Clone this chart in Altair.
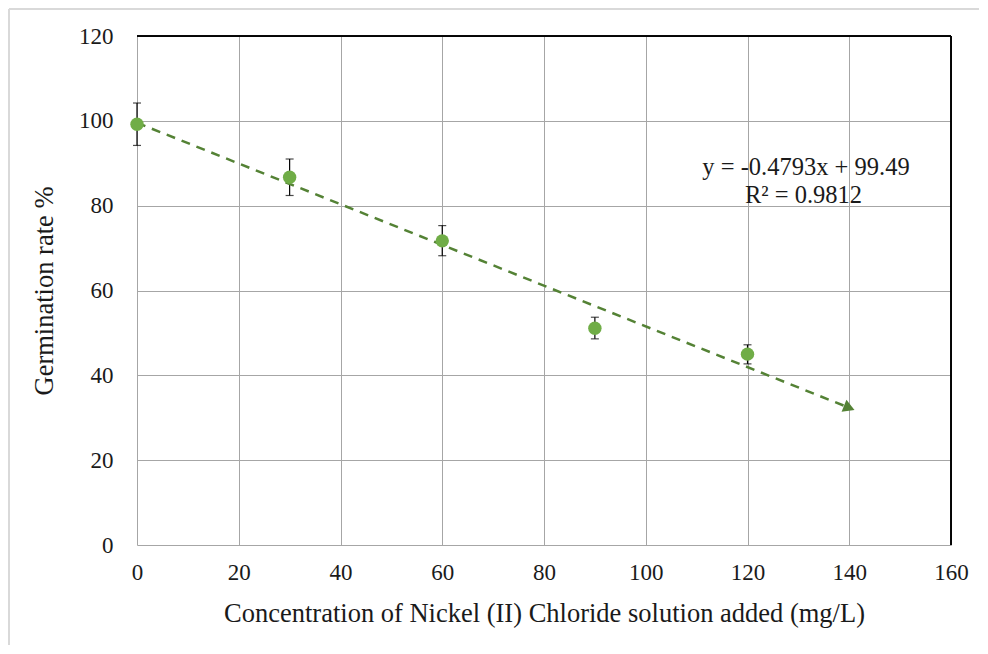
import altair as alt
import pandas as pd

conc = [0, 30, 60, 90, 120]
germ = [99.2, 86.7, 71.7, 51.1, 45.0]
err_lo = [94.2, 82.4, 68.2, 48.6, 42.7]
err_hi = [104.2, 91.0, 75.3, 53.7, 47.2]

trend_text = ["y = -0.4793x + 99.49", "R\u00b2 = 0.9812"]
trend_tx = [131.5, 131.0]
trend_ty = [88.9, 82.3]

df = pd.DataFrame({"x": conc, "y": germ, "lo": err_lo, "hi": err_hi})
tdf = pd.DataFrame({"t": trend_text, "x": trend_tx, "y": trend_ty})

FONT = "Liberation Serif"
GRID = "#a6a6a6"
PT = "#70AD47"
TR = "#548235"
XT = "Concentration of Nickel (II) Chloride solution added (mg/L)"
YT = "Germination rate %"

xs = alt.Scale(domain=[0, 160], nice=False, zero=False)
ys = alt.Scale(domain=[0, 120], nice=False, zero=False)

xax = alt.Axis(values=list(range(0, 161, 20)), title=XT,
               grid=True, gridColor=GRID, domain=False, ticks=False, labelFlush=False,
               labelPadding=16, titlePadding=16)
yax = alt.Axis(values=list(range(0, 121, 20)), title=YT,
               grid=True, gridColor=GRID, domain=False, ticks=False, labelFlush=False,
               labelPadding=24, titlePadding=20)

base = alt.Chart(df)

frame_left = base.mark_rule(stroke="#d9d9d9", strokeWidth=1.5).encode(
    x=alt.value(-128), y=alt.value(-27), y2=alt.value(700))
frame_top = base.mark_rule(stroke="#d9d9d9", strokeWidth=1.5).encode(
    y=alt.value(-27), x=alt.value(-128), x2=alt.value(1000))

grid_layer = base.mark_point(opacity=0).encode(
    x=alt.X("x:Q", scale=xs, axis=xax), y=alt.Y("y:Q", scale=ys, axis=yax))

top_rule = base.mark_rule(color="black", strokeWidth=1).encode(y=alt.datum(120))
right_rule = base.mark_rule(color="black", strokeWidth=1).encode(x=alt.datum(160))

trend = base.transform_regression("x", "y", extent=[0, 140]).mark_line(
    color=TR, strokeWidth=2.5, strokeDash=[9, 7]).encode(
    x=alt.X("x:Q", scale=xs, title=XT), y=alt.Y("y:Q", scale=ys, title=YT))

arrow = base.transform_regression("x", "y", extent=[0, 140]).transform_filter("datum.x >= 139").mark_point(
    shape="triangle-right", filled=True, color=TR, opacity=1, size=170, angle=21.8).encode(
    x=alt.X("x:Q", scale=xs, title=XT), y=alt.Y("y:Q", scale=ys, title=YT))

bars = base.mark_errorbar(ticks=alt.MarkConfig(size=8, color="black"), color="black", thickness=1.2).encode(
    x=alt.X("x:Q", scale=xs, title=XT), y=alt.Y("lo:Q", scale=ys, title=YT), y2="hi:Q")

pts = base.mark_circle(color=PT, opacity=1, size=180).encode(
    x=alt.X("x:Q", scale=xs, title=XT), y=alt.Y("y:Q", scale=ys, title=YT))

txt = alt.Chart(tdf).mark_text(font=FONT, fontSize=24.5, color="#1a1a1a", align="center", baseline="middle").encode(
    x=alt.X("x:Q", scale=xs, title=XT), y=alt.Y("y:Q", scale=ys, title=YT), text="t:N")

chart = alt.layer(frame_left, frame_top, grid_layer, top_rule, right_rule, bars, trend, arrow, pts, txt).properties(
    width=814, height=509,
    autosize=alt.AutoSizeParams(type="none"),
    padding={"left": 129, "top": 28, "right": 28, "bottom": 100},
).configure(background="white", font=FONT).configure_view(stroke=None).configure_axis(
    labelFont=FONT, labelFontSize=23, labelColor="#1a1a1a",
    titleFont=FONT, titleFontSize=26.5, titleFontWeight="normal", titleColor="#1a1a1a")

chart.save("out.html", embed_options={"renderer": "svg", "actions": False})
